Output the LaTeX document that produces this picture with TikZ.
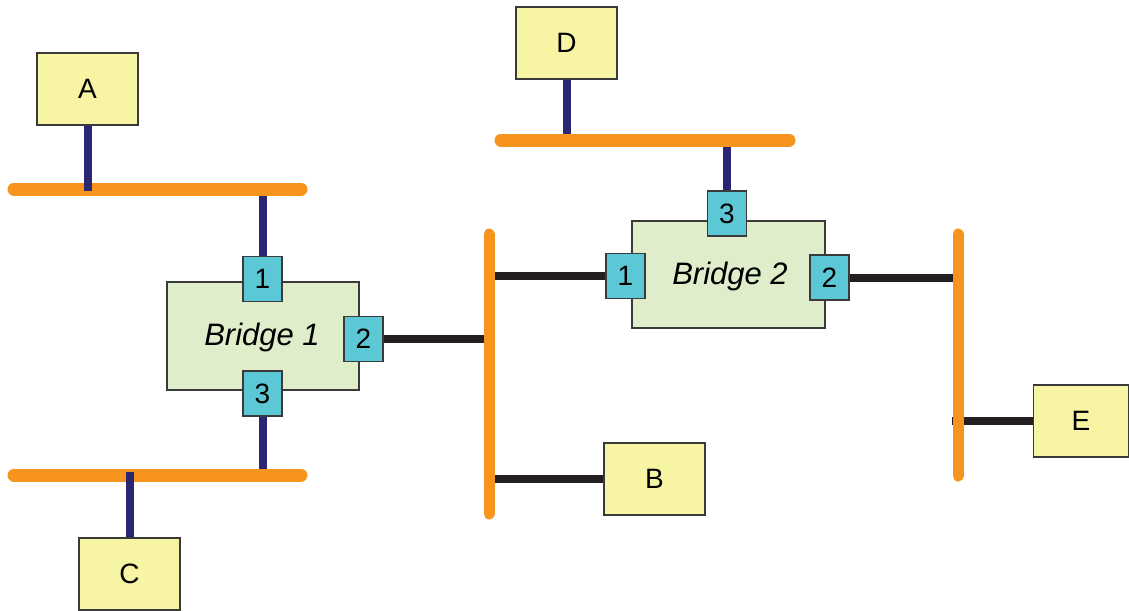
\documentclass[tikz,border=0pt]{standalone}
\usepackage{fontspec}
\setmainfont{Liberation Sans}
\definecolor{hostfill}{HTML}{F7F4A4}
\definecolor{bridgefill}{HTML}{DFEDCA}
\definecolor{portfill}{HTML}{5DC8D5}
\definecolor{busorange}{HTML}{F7941D}
\definecolor{stemnavy}{HTML}{2B2671}
\definecolor{linkblack}{HTML}{231F20}
\definecolor{edgegray}{HTML}{3A3A3A}
\begin{document}
\begin{tikzpicture}[x=1pt,y=-1pt,
  host/.style={draw=edgegray,line width=1.2pt,fill=hostfill,minimum width=101pt,minimum height=72pt,inner sep=0pt,font=\fontsize{28}{30}\selectfont},
  bridgebox/.style={draw=edgegray,line width=1.2pt,fill=bridgefill,inner sep=0pt},
  bridgelabel/.style={font=\fontsize{31}{33}\selectfont\itshape,inner sep=0pt},
  port/.style={draw=edgegray,line width=1.2pt,fill=portfill,minimum width=39pt,minimum height=45pt,inner sep=0pt,font=\fontsize{28}{30}\selectfont},
  bus/.style={busorange,line width=13pt,line cap=round},
  vbus/.style={busorange,line width=11pt,line cap=round},
  stem/.style={stemnavy,line width=8pt},
  link/.style={linkblack,line width=8pt},
]
\useasboundingbox (0,0) rectangle (1129,610);

% bus end points and tap points
\coordinate (busAl) at (14,189);   \coordinate (busAr) at (301,189);
\coordinate (busCl) at (14,475);   \coordinate (busCr) at (301,475);
\coordinate (busDl) at (501,140);  \coordinate (busDr) at (789,140);
\coordinate (busMt) at (489,234);  \coordinate (busMb) at (489,514);
\coordinate (busRt) at (958,234);  \coordinate (busRb) at (958,476);

\coordinate (tapA) at (87.5,191);
\coordinate (tapB1top) at (262.5,189);
\coordinate (tapB1bot) at (262.5,475);
\coordinate (tapC) at (129.5,472);
\coordinate (tapD) at (566.5,140);
\coordinate (tapB2top) at (727,140);
\coordinate (tapM1) at (489,339);
\coordinate (tapM2) at (489,276);
\coordinate (tapMB) at (489,479);
\coordinate (tapR1) at (958,277.5);
\coordinate (tapRE) at (952,421);

% hosts
\node[host] (A) at (87.5,89) {A};
\node[host] (D) at (566.5,43) {D};
\node[host] (B) at (654.5,479) {B};
\node[host] (C) at (129.5,574) {C};
\node[host,minimum width=95pt] (E) at (1081,421) {E};

% bridges
\node[bridgebox,minimum width=192pt,minimum height=108pt] (br1) at (263,336) {};
\node[bridgelabel] (br1label) at (262,337) {Bridge 1};
\node[bridgebox,minimum width=193pt,minimum height=107pt] (br2) at (728.5,274.5) {};
\node[bridgelabel] (br2label) at (730,276) {Bridge 2};

\node[port] (p11) at (262.5,279) {1};
\node[port] (p12) at (363.5,339) {2};
\node[port] (p13) at (262.5,393.5) {3};
\node[port] (p23) at (727,213.5) {3};
\node[port] (p21) at (625.5,276) {1};
\node[port] (p22) at (829.5,277.5) {2};

% connectors under the buses
\draw[stem] (p11.north) -- (tapB1top);
\draw[stem] (p13.south) -- (tapB1bot);
\draw[stem] (D.south) -- (tapD);
\draw[stem] (p23.north) -- (tapB2top);
\draw[link] (p12.east) -- (tapM1);
\draw[link] (tapM2) -- (p21.west);
\draw[link] (p22.east) -- (tapR1);
\draw[link] (tapMB) -- (B.west);
\draw[link] (tapRE) -- (E.west);

% buses
\draw[bus] (busAl) -- (busAr);
\draw[bus] (busCl) -- (busCr);
\draw[bus] (busDl) -- (busDr);
\draw[vbus] (busMt) -- (busMb);
\draw[vbus] (busRt) -- (busRb);

% connectors over the buses
\draw[stem] (A.south) -- (tapA);
\draw[stem] (tapC) -- (C.north);
\end{tikzpicture}
\end{document}
